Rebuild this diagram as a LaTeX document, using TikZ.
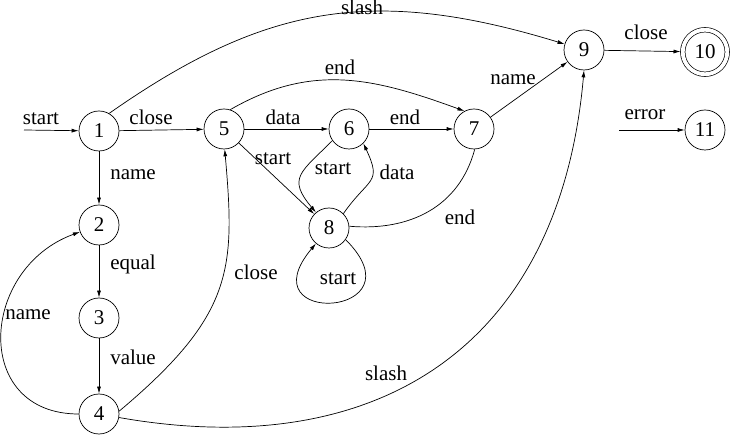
\documentclass[tikz,border=0pt]{standalone}
\usepackage{fontspec}
\setmainfont{Liberation Serif}
\usetikzlibrary{arrows.meta}
\begin{document}
\begin{tikzpicture}[x=1pt,y=1pt,
  state/.style={circle,draw,line width=0.7pt,minimum size=40pt,inner sep=0pt,font=\fontsize{21}{25}\selectfont},
  final/.style={state,minimum size=44.5pt,double,double distance=3.8pt,outer sep=2.25pt},
  lab/.style={anchor=base,inner sep=0pt,font=\fontsize{21}{25}\selectfont},
  arr/.style={line width=0.7pt,-{Latex[length=7pt,width=4pt]}},
  plain/.style={line width=0.7pt}]
\useasboundingbox (0,0) rectangle (730,436);
% states
\node[state] (n1) at (99,305) {1};
\node[state] (n2) at (99,211) {2};
\node[state] (n3) at (99,118) {3};
\node[state] (n4) at (99,22) {4};
\node[state] (n5) at (224,307) {5};
\node[state] (n6) at (349,307) {6};
\node[state] (n7) at (474,307) {7};
\node[state] (n8) at (329,208) {8};
\node[state] (n9) at (584,386) {9};
\node[final] (n10) at (705,384) {10};
\node[state] (n11) at (705,306) {11};
\coordinate (in1) at (24,306);
\coordinate (in11) at (619,306);
% straight transitions
\draw[arr] (in1) -- (n1);
\draw[arr] (n1) -- (n5);
\draw[arr] (n1) -- (n2);
\draw[arr] (n2) -- (n3);
\draw[arr] (n3) -- (n4);
\draw[arr] (n5) -- (n6);
\draw[arr] (n6) -- (n7);
\draw[arr] (n5) -- (n8);
\draw[arr] (n7) -- (n9);
\draw[arr] (n9) -- (n10);
\draw[arr] (in11) -- (n11);
% curved transitions
\draw[arr] (n4) to[out=180,in=200,looseness=1.5] (n2);
\draw[arr] (n4.8) .. controls +(40:150) and +(-85:120) .. (n5.-88);
\draw[arr] (n4.-10) .. controls +(-10:260) and +(-95:280) .. (n9.-90);
\draw[arr] (n1.60) .. controls +(35:190) and +(163:200) .. (n9.163);
\draw[arr] (n5.72) .. controls +(30:95) and +(160:95) .. (n7.118);
\draw[arr] (n6.215) .. controls +(225:45) and +(130:45) .. (n8.130);
\draw[arr] (n8.45) .. controls +(55:45) and +(-65:45) .. (n6.-45);
\draw[plain] (n7.-88) .. controls +(-105:60) and +(-5:60) .. (n8.5);
\draw[arr] (n8.-35) .. controls +(-45:110) and +(-130:110) .. (n8.-130);
% labels
\node[lab] (l1) at (41,311) {start};
\node[lab] (l2) at (151,311) {close};
\node[lab] (l3) at (133,256) {name};
\node[lab] (l4) at (133,166) {equal};
\node[lab] (l5) at (133,71) {value};
\node[lab] (l6) at (28,116) {name};
\node[lab] (l7) at (256,156) {close};
\node[lab] (l8) at (283,311) {data};
\node[lab] (l9) at (405,311) {end};
\node[lab] (l10) at (340,361) {end};
\node[lab] (l11) at (273,271) {start};
\node[lab] (l12) at (333,261) {start};
\node[lab] (l13) at (397,256) {data};
\node[lab] (l14) at (460,211) {end};
\node[lab] (l15) at (338,151) {start};
\node[lab] (l16) at (386,56) {slash};
\node[lab] (l17) at (362,421) {slash};
\node[lab] (l18) at (513,351) {name};
\node[lab] (l19) at (646,396) {close};
\node[lab] (l20) at (645,316) {error};
\end{tikzpicture}
\end{document}
